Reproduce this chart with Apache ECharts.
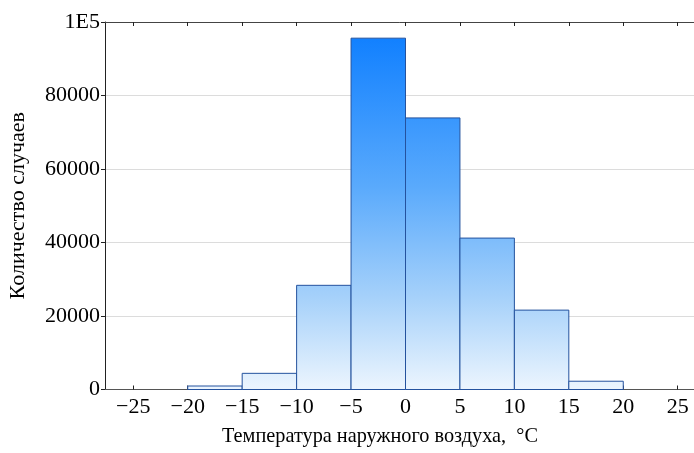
<!DOCTYPE html>
<html>
<head>
<meta charset="utf-8">
<script src="https://cdn.jsdelivr.net/npm/echarts@6/dist/echarts.min.js"></script>
<style>
html,body{margin:0;padding:0;background:#fff;}
#c{width:694px;height:453px;}
</style>
</head>
<body>
<div id="c"></div>
<script>
// Histogram bins (°C) and counts
var binStarts = [-20, -15, -10, -5, 0, 5, 10, 15];
var binEnds   = [-15, -10, -5, 0, 5, 10, 15, 20];
var counts    = [950, 4400, 28350, 95600, 73900, 41200, 21600, 2250];
var xTicks = [-25, -20, -15, -10, -5, 0, 5, 10, 15, 20, 25];
var yTicks = [0, 20000, 40000, 60000, 80000, 100000];
var xTitle = 'Температура наружного воздуха,  °C';
var yTitle = 'Количество случаев';

var FONT = '"Liberation Serif", "DejaVu Serif", serif';
var data = binStarts.map(function (s, i) { return [s, binEnds[i], counts[i]]; });

var chart = echarts.init(document.getElementById('c'), null, {renderer: 'canvas'});

function fmtX(v) { return v < 0 ? '\u2212' + Math.abs(v) : String(v); }

chart.setOption({
  animation: false,
  backgroundColor: '#fff',
  grid: {left: 105, top: 22, width: 601, bottom: 63.5, containLabel: false, outerBoundsMode: 'none'},
  xAxis: [{
    type: 'value', position: 'bottom',
    min: -27.6, max: 27.6,
    axisLine: {show: true, onZero: false, lineStyle: {color: '#555', width: 1}},
    axisTick: {show: true, inside: true, length: 4, customValues: xTicks, lineStyle: {color: '#222'}},
    axisLabel: {show: true, customValues: xTicks, formatter: fmtX, margin: 7,
      fontFamily: FONT, fontSize: 22, color: '#000'},
    splitLine: {show: false}
  }, {
    type: 'value', position: 'top',
    min: -27.6, max: 27.6,
    axisLine: {show: true, onZero: false, lineStyle: {color: '#444', width: 1}},
    axisTick: {show: true, inside: true, length: 4, customValues: xTicks, lineStyle: {color: '#222'}},
    axisLabel: {show: false},
    splitLine: {show: false}
  }],
  yAxis: {
    type: 'value', min: 0, max: 100000, interval: 20000,
    axisLine: {show: true, onZero: false, lineStyle: {color: '#222', width: 1}},
    axisTick: {show: true, inside: false, length: 4, lineStyle: {color: '#222'}},
    axisLabel: {margin: 5, fontFamily: FONT, fontSize: 22, color: '#000',
      formatter: function (v) { return v === 100000 ? '1E5' : String(v); }},
    splitLine: {show: true, lineStyle: {color: '#dcdcdc', width: 1}},
    name: yTitle, nameLocation: 'middle', nameGap: 76,
    nameTextStyle: {fontFamily: FONT, fontSize: 22, color: '#000'}
  },
  graphic: [{
    type: 'text', left: 222, top: 427,
    style: {text: xTitle, font: '20.3px ' + FONT, fill: '#000'}
  }],
  series: [{
    type: 'custom',
    xAxisIndex: 0, yAxisIndex: 0,
    encode: {x: [0, 1], y: 2},
    data: data,
    renderItem: function (params, api) {
      var p0 = api.coord([api.value(0), 0]);
      var p1 = api.coord([api.value(1), api.value(2)]);
      var top = api.coord([0, 100000])[1];
      var bottom = api.coord([0, 0])[1];
      return {
        type: 'rect',
        shape: {x: p0[0], y: p1[1], width: p1[0] - p0[0], height: p0[1] - p1[1]},
        style: {
          fill: {
            type: 'linear', global: true, x: 0, y: top, x2: 0, y2: bottom,
            colorStops: [
              {offset: 0, color: '#0a7cff'},
              {offset: 0.45, color: '#5aaafc'},
              {offset: 0.75, color: '#a6d1fa'},
              {offset: 1, color: '#ecf5fe'}
            ]
          },
          stroke: '#24529e', lineWidth: 1
        }
      };
    }
  }]
});
</script>
</body>
</html>
